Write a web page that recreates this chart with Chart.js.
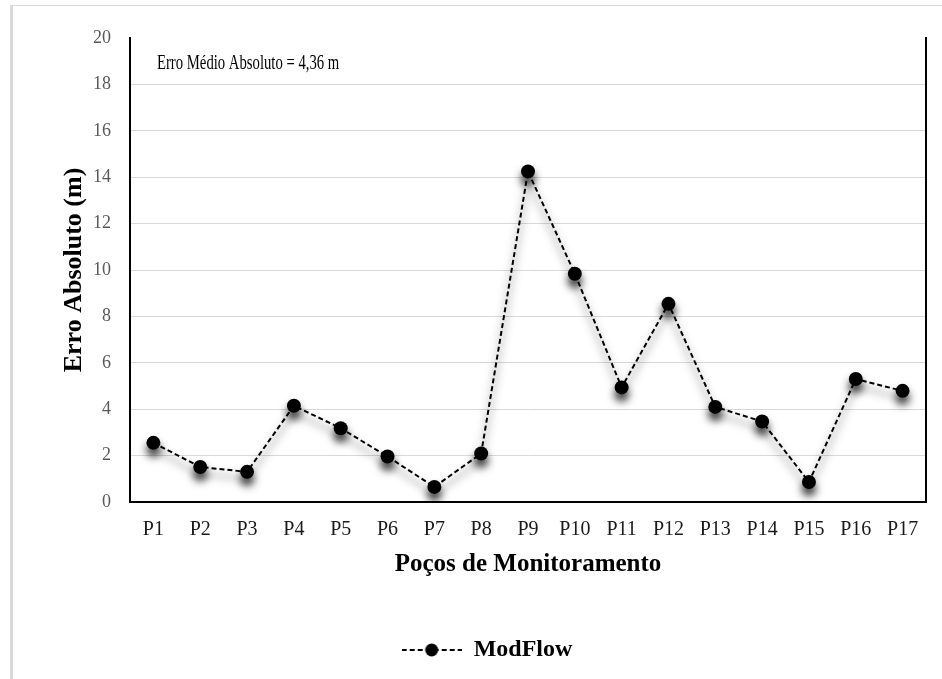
<!DOCTYPE html>
<html><head><meta charset="utf-8">
<script src="https://cdn.jsdelivr.net/npm/chart.js@4"></script>
<style>
html,body{margin:0;padding:0;background:#fff;}
#wrap{position:relative;width:942px;height:679px;}
#frame{position:absolute;left:10px;top:5px;right:0;bottom:0;border-left:3px solid #d9d9d9;border-top:1px solid #d9d9d9;pointer-events:none;}
</style>
</head><body>
<div id="wrap"><canvas id="c" width="942" height="679"></canvas><div id="frame"></div></div>
<script>
const categories = ['P1','P2','P3','P4','P5','P6','P7','P8','P9','P10','P11','P12','P13','P14','P15','P16','P17'];
const seriesName = 'ModFlow';
const modflowValues = [2.55, 1.51, 1.30, 4.15, 3.18, 1.96, 0.65, 2.09, 14.25, 9.84, 4.94, 8.54, 4.10, 3.47, 0.86, 5.30, 4.79];
const yMin = 0, yMax = 20, yStep = 2;
const annotationText = 'Erro Médio Absoluto = 4,36 m';
const annotationValue = 18.9;
const xTitle = 'Poços de Monitoramento';
const yTitle = 'Erro Absoluto (m)';

const FONT = '"Liberation Serif", "Times New Roman", serif';
Chart.defaults.font.family = FONT;

const legendMarker = document.createElement('canvas');
legendMarker.width = 60; legendMarker.height = 16;
(function(){
  const m = legendMarker.getContext('2d');
  m.strokeStyle = '#000'; m.lineWidth = 2; m.setLineDash([5,3]);
  m.beginPath(); m.moveTo(0,8); m.lineTo(60,8); m.stroke();
  m.setLineDash([]);
  m.beginPath(); m.arc(30,8,6.5,0,Math.PI*2); m.fillStyle='#000'; m.fill();
})();

const shadowPlugin = {
  id: 'shadow',
  beforeDatasetDraw(chart){ const ctx = chart.ctx; ctx.save(); ctx.shadowColor='rgba(0,0,0,0.8)'; ctx.shadowBlur=9; ctx.shadowOffsetX=0; ctx.shadowOffsetY=7; },
  afterDatasetDraw(chart){ chart.ctx.restore(); }
};
const annotationPlugin = {
  id: 'annot',
  afterDraw(chart){
    const {ctx, chartArea, scales} = chart;
    const x = chartArea.left + 27, y = scales.y.getPixelForValue(annotationValue);
    ctx.save();
    ctx.translate(x, y);
    ctx.scale(0.7, 1);
    ctx.font = '21px ' + FONT;
    ctx.fillStyle = '#000';
    ctx.textBaseline = 'middle';
    ctx.fillText(annotationText, 0, 0);
    ctx.restore();
  }
};

new Chart(document.getElementById('c'), {
  type: 'line',
  data: {
    labels: categories,
    datasets: [{
      label: seriesName,
      data: modflowValues,
      borderColor: '#000',
      backgroundColor: '#000',
      borderWidth: 2,
      borderDash: [5,3],
      pointRadius: 7,
      pointHoverRadius: 7,
      pointBorderWidth: 0,
      pointBackgroundColor: '#000',
      pointBorderColor: '#000',
      tension: 0,
      yAxisID: 'y'
    }]
  },
  options: {
    responsive: false,
    animation: false,
    devicePixelRatio: 1,
    layout: { padding: { left: 48, right: 16, top: 38, bottom: 7 } },
    plugins: {
      tooltip: { enabled: false },
      legend: {
        position: 'bottom',
        labels: {
          usePointStyle: true,
          pointStyle: legendMarker,
          pointStyleWidth: 60,
          boxHeight: 16,
          padding: 10,
          color: '#000',
          font: { size: 24, weight: 'bold', family: FONT }
        }
      }
    },
    scales: {
      x: {
        type: 'category',
        offset: true,
        grid: { display: false, drawTicks: false },
        border: { color: '#000', width: 2 },
        ticks: { color: '#1a1a1a', font: { size: 20, family: FONT }, padding: 16, maxRotation: 0 },
        title: { display: true, text: xTitle, color: '#000', font: { size: 25, weight: 'bold', family: FONT }, padding: { top: 0, bottom: 48 } },
        afterFit(scale){ scale.height = 126; }
      },
      y: {
        position: 'left',
        min: yMin, max: yMax,
        ticks: { stepSize: yStep, color: '#595959', font: { size: 18, family: FONT }, padding: 19 },
        grid: { drawTicks: false, color: (c) => (c.tick && c.tick.value === yMax) ? 'rgba(0,0,0,0)' : '#d9d9d9', lineWidth: 1 },
        border: { color: '#000', width: 2 },
        title: { display: true, text: yTitle, color: '#000', font: { size: 26, weight: 'bold', family: FONT }, padding: { top: 11, bottom: 0 } },
        afterFit(scale){ scale.width = 82; }
      },
      y2: {
        position: 'right',
        min: yMin, max: yMax,
        ticks: { display: false },
        grid: { display: false, drawTicks: false },
        border: { color: '#000', width: 2 },
        afterFit(scale){ scale.width = 0; }
      }
    }
  },
  plugins: [shadowPlugin, annotationPlugin]
});
</script>
</body></html>
